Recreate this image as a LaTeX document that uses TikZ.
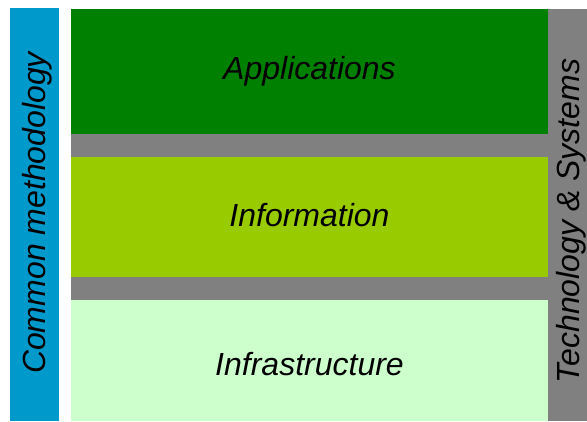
\documentclass[tikz,border=0pt]{standalone}
\usepackage{fontspec}
\setmainfont{Liberation Sans}
\definecolor{methodblue}{RGB}{0,153,204}
\definecolor{appgreen}{RGB}{0,128,0}
\definecolor{infogreen}{RGB}{153,204,0}
\definecolor{infrapale}{RGB}{204,255,204}
\definecolor{techgray}{RGB}{128,128,128}

\begin{document}
\begin{tikzpicture}[x=1pt,y=-1pt,
    every node/.style={inner sep=0pt,outer sep=0pt,
      font=\itshape\fontsize{32}{38}\selectfont},
    layer/.style={rectangle,minimum width=477pt,text height=23pt},
    bar/.style={rectangle,rotate=90}]
    \useasboundingbox (0,0) rectangle (587,421);

    % grey frame behind the three layers
    \node[fill=techgray,minimum width=516pt,minimum height=412pt]
        (frame) at (329,215) {};
    \node[layer,fill=appgreen,minimum height=125pt,text depth=8pt]
        (apps)  at (309.5,71.5)  {Applications};
    \node[layer,fill=infogreen,minimum height=120pt,text depth=5pt]
        (info)  at (309.5,217)   {Information};
    \node[layer,fill=infrapale,minimum height=121pt,text height=35pt,text depth=6pt]
        (infra) at (309.5,360.5) {Infrastructure};

    % side bars
    \node[fill=methodblue,minimum width=49pt,minimum height=413pt]
        (method) at (34.5,214.5) {};
    \node[bar] (methodtext) at (37.5,213) {Common methodology};
    \node[bar] (tech) at (571,221) {Technology \& Systems};
\end{tikzpicture}
\end{document}
